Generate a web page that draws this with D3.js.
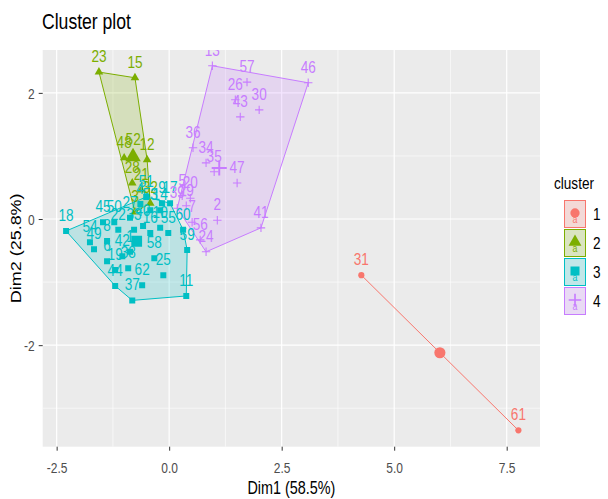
<!DOCTYPE html>
<html>
<head>
<meta charset="utf-8">
<script src="https://cdn.jsdelivr.net/npm/d3@7"></script>
<style>
  body { margin: 0; background: #fff; }
  text { font-family: "Liberation Sans", Arial, sans-serif; }
</style>
</head>
<body>
<svg id="chart" width="608" height="499"></svg>
<script>
// ---- data: principal-component coordinates of each observation, by cluster ----
const clusterIds = ["1", "2", "3", "4"];
const clusterColors = ["#F8766D", "#7CAE00", "#00BFC4", "#C77CFF"];

const names1 = ["31", "61"];
const dim1_c1 = [4.27, 7.76];
const dim2_c1 = [-0.89, -3.35];

const names2 = ["23", "15", "12", "48", "52", "28", "21", "32", "3"];
const dim1_c2 = [-1.56, -0.76, -0.49, -1.00, -0.80, -0.82, -0.62, -0.42, -0.76];
const dim2_c2 = [2.33, 2.24, 0.94, 0.97, 1.02, 0.57, 0.46, 0.25, 0.11];

const names3 = ["18", "54", "49", "45", "50", "22", "27", "33", "8", "6", "42", "1", "19", "44", "37", "62",
                "38", "58", "16", "10", "40", "14", "9", "17", "51", "53", "25", "55", "60", "59", "11", "4"];
const dim1_c3 = [-2.29, -1.76, -1.67, -1.47, -1.22, -1.13, -0.87, -0.78, -1.38, -1.38, -1.04, -0.87, -1.20, -1.20, -0.82, -0.60,
                 -0.91, -0.33, -0.42, -0.20, -0.58, -0.20, -0.16, 0.02, -0.51, -0.42, -0.13, -0.02, 0.31, 0.40, 0.38, -0.64];
const dim2_c3 = [-0.19, -0.37, -0.48, -0.05, -0.05, -0.17, 0.02, -0.17, -0.35, -0.67, -0.59, -0.52, -0.81, -1.06, -1.29, -1.05,
                 -0.78, -0.62, -0.22, -0.14, -0.11, 0.14, 0.25, 0.25, 0.35, 0.14, -0.89, -0.22, -0.17, -0.49, -1.22, 0.24];

const names4 = ["13", "57", "46", "26", "43", "30", "36", "34", "35", "47", "41", "2", "24", "56", "7", "29", "39", "20", "5"];
const dim1_c4 = [0.96, 1.73, 3.09, 1.47, 1.58, 2.00, 0.53, 0.82, 1.00, 1.51, 2.04, 1.07, 0.82, 0.69, 0.51, 0.38, 0.18, 0.47, 0.29];
const dim2_c4 = [2.43, 2.17, 2.16, 1.89, 1.62, 1.73, 1.13, 0.89, 0.75, 0.57, -0.14, -0.02, -0.52, -0.33, -0.05, 0.21, 0.17, 0.33, 0.37];

const xTicks = [-2.5, 0.0, 2.5, 5.0, 7.5];
const xTickLabels = ["-2.5", "0.0", "2.5", "5.0", "7.5"];
const yTicks = [-2, 0, 2];
const yTickLabels = ["-2", "0", "2"];
const xMinor = [-1.25, 1.25, 3.75, 6.25];
const yMinor = [-3, -1, 1];

const titleText = "Cluster plot";
const xTitle = "Dim1 (58.5%)";
const yTitle = "Dim2 (25.8%)";
const legendTitle = "cluster";

// ---- assemble ----
const groups = [
  [names1, dim1_c1, dim2_c1],
  [names2, dim1_c2, dim2_c2],
  [names3, dim1_c3, dim2_c3],
  [names4, dim1_c4, dim2_c4]
].map(([n, a, b], i) => ({
  id: clusterIds[i],
  color: clusterColors[i],
  pts: n.map((name, j) => ({ name, x: a[j], y: b[j] }))
}));

const SQ = 0.8; // horizontal condensation of all lettering

const panel = { left: 42.7, right: 540, top: 50, bottom: 446.7 };
const x = d3.scaleLinear().domain([-2.81, 8.24]).range([panel.left, panel.right]);
const y = d3.scaleLinear().domain([-3.61, 2.68]).range([panel.bottom, panel.top]);

const svg = d3.select("#chart");
svg.append("rect").attr("width", 608).attr("height", 499).attr("fill", "#fff");

// condensed text helper
function label(parent, px, py, str, size, color, anchor) {
  return parent.append("text")
    .attr("transform", `translate(${px},${py}) scale(${SQ},1)`)
    .attr("text-anchor", anchor || "start")
    .attr("font-size", size).attr("fill", color).text(str);
}

// title
label(svg, 42, 29, titleText, 22, "#000");

// panel and grid
svg.append("rect")
  .attr("x", panel.left).attr("y", panel.top)
  .attr("width", panel.right - panel.left).attr("height", panel.bottom - panel.top)
  .attr("fill", "#EBEBEB");

const grid = svg.append("g");
grid.selectAll(".vmin").data(xMinor).join("line")
  .attr("x1", d => x(d)).attr("x2", d => x(d)).attr("y1", panel.top).attr("y2", panel.bottom)
  .attr("stroke", "#fff").attr("stroke-width", 0.6);
grid.selectAll(".hmin").data(yMinor).join("line")
  .attr("y1", d => y(d)).attr("y2", d => y(d)).attr("x1", panel.left).attr("x2", panel.right)
  .attr("stroke", "#fff").attr("stroke-width", 0.6);
grid.selectAll(".vmaj").data(xTicks).join("line")
  .attr("x1", d => x(d)).attr("x2", d => x(d)).attr("y1", panel.top).attr("y2", panel.bottom)
  .attr("stroke", "#fff").attr("stroke-width", 1.2);
grid.selectAll(".hmaj").data(yTicks).join("line")
  .attr("y1", d => y(d)).attr("y2", d => y(d)).attr("x1", panel.left).attr("x2", panel.right)
  .attr("stroke", "#fff").attr("stroke-width", 1.2);

// axes: library tick marks, condensed tick labels
const xAxis = d3.axisBottom(x).tickValues(xTicks).tickFormat((d, i) => xTickLabels[i]).tickSize(4);
const yAxis = d3.axisLeft(y).tickValues(yTicks).tickFormat((d, i) => yTickLabels[i]).tickSize(4);
const gx = svg.append("g").attr("transform", `translate(0,${panel.bottom})`).call(xAxis);
const gy = svg.append("g").attr("transform", `translate(${panel.left},0)`).call(yAxis);
[gx, gy].forEach(g => {
  g.select(".domain").remove();
  g.selectAll(".tick line").attr("stroke", "#333").attr("stroke-width", 1);
});
gx.selectAll(".tick text")
  .attr("y", null).attr("dy", null)
  .attr("transform", `translate(0,26) scale(${SQ},1)`)
  .attr("fill", "#4D4D4D").attr("font-size", 15).style("font-family", '"Liberation Sans", Arial, sans-serif');
gy.selectAll(".tick text")
  .attr("x", null).attr("dy", null)
  .attr("transform", `translate(-8,5.5) scale(${SQ},1)`)
  .attr("fill", "#4D4D4D").attr("font-size", 15).style("font-family", '"Liberation Sans", Arial, sans-serif');

label(svg, (panel.left + panel.right) / 2, 494, xTitle, 18, "#000", "middle");
svg.append("text")
  .attr("transform", `translate(21,${(panel.top + panel.bottom) / 2}) rotate(-90) scale(1,${SQ})`)
  .attr("text-anchor", "middle").attr("font-size", 18).attr("fill", "#000").text(yTitle);

// marker shapes per cluster
function markerPath(k, scale) {
  if (k === 0) return d3.symbol(d3.symbolCircle, 30 * scale * scale)();
  if (k === 1) return d3.symbol(d3.symbolTriangle, 32 * scale * scale)();
  if (k === 2) return d3.symbol(d3.symbolSquare, 36 * scale * scale)();
  const h = 4.2 * scale;
  return `M${-h},0H${h}M0,${-h}V${h}`;
}
function drawMarker(g, k, px, py, color, scale) {
  g.append("path").attr("d", markerPath(k, scale))
    .attr("transform", `translate(${px},${py})`)
    .attr("fill", k === 3 ? "none" : color)
    .attr("stroke", color).attr("stroke-width", k === 3 ? 1.1 * scale : 0);
}

// plotting layer, clipped to the panel
svg.append("clipPath").attr("id", "panelClip").append("rect")
  .attr("x", panel.left).attr("y", panel.top)
  .attr("width", panel.right - panel.left).attr("height", panel.bottom - panel.top);
const plot = svg.append("g").attr("clip-path", "url(#panelClip)");

// hulls
groups.forEach(gr => {
  const p = gr.pts.map(d => [x(d.x), y(d.y)]);
  if (p.length >= 3) {
    const hull = d3.polygonHull(p);
    plot.append("path").attr("d", "M" + hull.join("L") + "Z")
      .attr("fill", gr.color).attr("fill-opacity", 0.2)
      .attr("stroke", gr.color).attr("stroke-width", 1);
  } else {
    plot.append("path").attr("d", "M" + p.join("L"))
      .attr("fill", "none").attr("stroke", gr.color).attr("stroke-width", 1);
  }
});

// observations
groups.forEach((gr, k) => {
  gr.pts.forEach(d => drawMarker(plot, k, x(d.x), y(d.y), gr.color, 1));
});

// observation labels
groups.forEach(gr => {
  const lg = plot.append("g");
  gr.pts.forEach(d => label(lg, x(d.x), y(d.y) - 10, d.name, 17, gr.color, "middle"));
});

// cluster centres
groups.forEach((gr, k) => {
  const cx = d3.mean(gr.pts, d => d.x), cy = d3.mean(gr.pts, d => d.y);
  drawMarker(plot, k, x(cx), y(cy), gr.color, 1.8);
});

// legend
const leg = svg.append("g");
label(leg, 554, 189, legendTitle, 17, "#000");
groups.forEach((gr, k) => {
  const ky = 200 + k * 29;
  leg.append("rect").attr("x", 564).attr("y", ky).attr("width", 22).attr("height", 28).attr("fill", "#F2F2F2");
  leg.append("rect").attr("x", 564.5).attr("y", ky + 0.5).attr("width", 21).attr("height", 27)
    .attr("fill", gr.color).attr("fill-opacity", 0.2).attr("stroke", gr.color).attr("stroke-width", 1);
  label(leg, 575, ky + 23, "a", 11, gr.color, "middle");
  drawMarker(leg, k, 575, ky + 13, gr.color, 1.5);
  label(leg, 593, ky + 20, gr.id, 17, "#000");
});
</script>
</body>
</html>
